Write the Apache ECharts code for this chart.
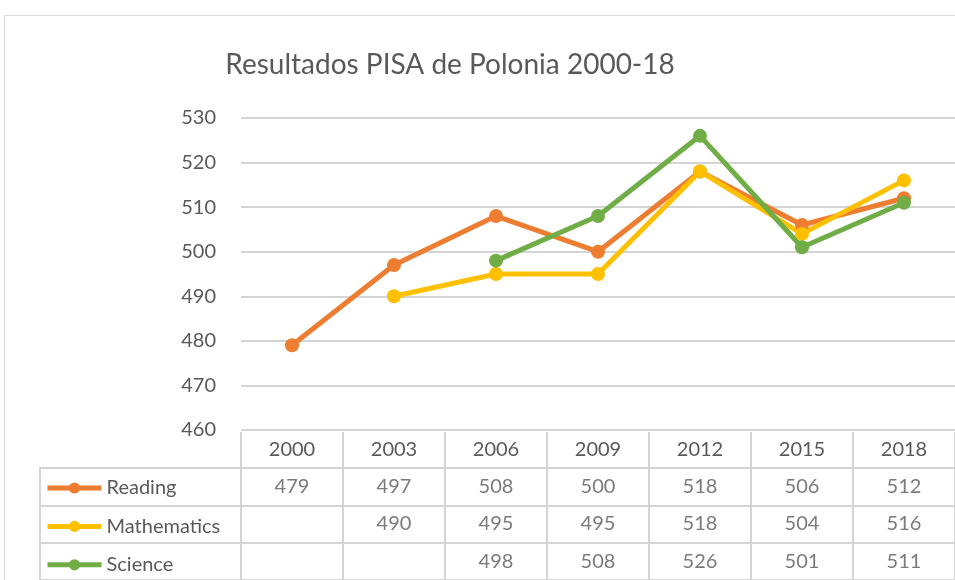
<!DOCTYPE html>
<html>
<head>
<meta charset="utf-8">
<script src="https://cdn.jsdelivr.net/npm/echarts@6/dist/echarts.min.js"></script>
<style>
  html, body { margin: 0; padding: 0; background: #fff; }
  #pisa-chart { width: 955px; height: 580px; }
</style>
</head>
<body>
<div id="pisa-chart"></div>
<script>
const years = ['2000', '2003', '2006', '2009', '2012', '2015', '2018'];
const rowNames = ['Reading', 'Mathematics', 'Science'];
const reading = [479, 497, 508, 500, 518, 506, 512];
const mathematics = [null, 490, 495, 495, 518, 504, 516];
const science = [null, null, 498, 508, 526, 501, 511];

const colors = ['#ED7D31', '#FFC000', '#70AD47'];
const textGray = '#595959';
const lineGray = '#d4d4d4';
const font = 'Lato';

// celdas de la tabla de datos
const tableCells = [];
[reading, mathematics, science].forEach((values, r) => {
  values.forEach((v, i) => {
    if (v !== null) tableCells.push([years[i], rowNames[r], v]);
  });
});

const lineSeries = (name, data, color) => ({
  name: name,
  type: 'line',
  xAxisIndex: 0,
  yAxisIndex: 0,
  data: data,
  symbol: 'circle',
  symbolSize: 14,
  lineStyle: { width: 5, color: color },
  itemStyle: { color: color },
});

// una leyenda por fila de la tabla
const rowLegend = (name, i) => ({
  data: [name],
  left: 45,
  top: 476 + i * 38.4,
  padding: 0,
  itemWidth: 54,
  itemHeight: 14,
  itemGap: 4,
  lineStyle: { width: 5 },
  textStyle: { fontFamily: font, fontSize: 20, color: textGray, lineHeight: 24 },
  selectedMode: false,
});

const myChart = echarts.init(document.getElementById('pisa-chart'));
const option = {
  animation: false,
  color: colors,
  textStyle: { fontFamily: font },
  title: {
    text: 'Resultados PISA de Polonia 2000-18',
    left: 445,
    textAlign: 'center',
    top: 46,
    textStyle: { fontFamily: font, fontSize: 28, fontWeight: 'normal', color: textGray },
  },
  legend: rowNames.map(rowLegend),
  graphic: [{
    type: 'rect',
    shape: { x: 4.5, y: 15.5, width: 1000, height: 1000 },
    style: { fill: 'none', stroke: '#d9d9d9', lineWidth: 1 },
    z: -10,
    silent: true,
  }],
  grid: [
    { left: 241, right: -14, top: 118, bottom: 150 },
    { left: 241, right: -14, top: 468, bottom: -3 },
  ],
  xAxis: [
    {
      gridIndex: 0,
      type: 'category',
      data: years,
      boundaryGap: true,
      axisLine: { show: false },
      axisTick: { show: false },
      axisLabel: { show: false },
    },
    {
      gridIndex: 1,
      type: 'category',
      data: years,
      position: 'top',
      boundaryGap: true,
      axisLine: { show: true, lineStyle: { color: lineGray, width: 2 } },
      axisTick: { show: true, length: 36, interval: 0, lineStyle: { color: lineGray, width: 2 } },
      axisLabel: { margin: 18, verticalAlign: 'middle', fontFamily: font, fontSize: 20, color: textGray, interval: 0 },
      splitLine: { show: true, interval: 0, lineStyle: { color: lineGray, width: 2 } },
    },
  ],
  yAxis: [
    {
      gridIndex: 0,
      type: 'value',
      min: 460,
      max: 530,
      interval: 10,
      axisLine: { show: false },
      axisTick: { show: false },
      axisLabel: { margin: 25, fontFamily: font, fontSize: 20, color: textGray },
      splitLine: { lineStyle: { color: lineGray, width: 2 } },
    },
    {
      gridIndex: 1,
      type: 'category',
      data: rowNames,
      inverse: true,
      axisLine: { show: true, lineStyle: { color: lineGray, width: 2 } },
      axisTick: { show: true, length: 201, interval: 0, lineStyle: { color: lineGray, width: 2 } },
      axisLabel: { show: false },
      splitLine: { show: true, interval: 0, lineStyle: { color: lineGray, width: 2 } },
    },
    {
      // borde izquierdo de la tabla
      gridIndex: 1,
      type: 'category',
      data: rowNames,
      inverse: true,
      position: 'left',
      offset: 201,
      axisLine: { show: true, lineStyle: { color: lineGray, width: 2 } },
      axisTick: { show: false },
      axisLabel: { show: false },
    },
  ],
  series: [
    lineSeries('Reading', reading, colors[0]),
    lineSeries('Mathematics', mathematics, colors[1]),
    lineSeries('Science', science, colors[2]),
    {
      name: 'tabla',
      type: 'scatter',
      xAxisIndex: 1,
      yAxisIndex: 1,
      data: tableCells,
      symbolSize: 1,
      itemStyle: { color: 'transparent' },
      silent: true,
      label: {
        show: true,
        position: 'inside',
        formatter: (p) => p.value[2],
        fontFamily: font,
        fontSize: 20,
        color: textGray,
      },
    },
  ],
};
myChart.setOption(option);
</script>
</body>
</html>
